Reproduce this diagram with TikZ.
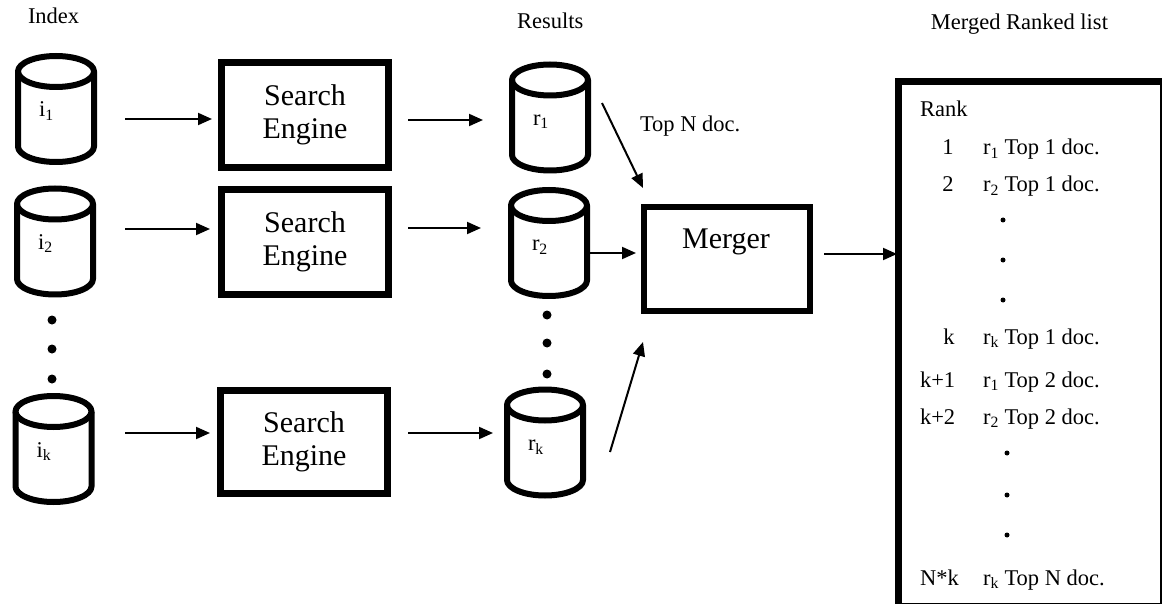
\documentclass[tikz,border=0pt]{standalone}
\usepackage{fontspec}
\setmainfont{Liberation Serif}
\usetikzlibrary{arrows.meta,calc}

% database cylinder: name, x, y (downwards), label
\newcommand\dbcyl[4]{%
  \node[cylnode] (#1) at (#2,-#3) {};
  \draw[cylline] ($(#1.north west)+(0,-15.5)$) -- ($(#1.south west)+(0,15.5)$)
     arc[start angle=180,end angle=360,x radius=38pt,y radius=15.5pt]
     -- ($(#1.north east)+(0,-15.5)$);
  \draw[cylline] ($(#1.north)+(0,-15.5)$) ellipse[x radius=38pt,y radius=15.5pt];
  \node[txt,anchor=base west] (#1-lbl) at ($(#1.center)+(-17,-8)$) {#4};
}

\begin{document}
\begin{tikzpicture}[x=1pt,y=1pt,
  every node/.style={outer sep=0pt},
  txt/.style={font=\fontsize{22.5}{27}\selectfont, inner sep=0pt},
  cylnode/.style={rectangle, minimum width=76pt, minimum height=106pt, inner sep=0pt},
  cylline/.style={line width=6pt, line join=round},
  sebox/.style={draw, line width=7pt, minimum width=167pt, minimum height=105pt,
                inner sep=0pt, align=center, font=\fontsize{30}{33}\selectfont},
  arr/.style={line width=2pt, -{Triangle[length=14pt,width=12pt]}},
  dot/.style={fill=black},
  ]
\useasboundingbox (0,0) rectangle (1162,-604);
\clip (0,0) rectangle (1162,-604);

% column headings
\node[txt,anchor=base west] (hidx) at (28,-24) {Index};
\node[txt,anchor=base west] (hres) at (517,-29) {Results};
\node[txt,anchor=base east] (hlst) at (1108,-30) {Merged Ranked list};

% index collections
\dbcyl{i1}{56}{109}{i\textsubscript{1}}
\dbcyl{i2}{55}{241.5}{i\textsubscript{2}}
\dbcyl{ik}{53.5}{449}{i\textsubscript{k}}
\fill[dot] (52,-320) circle (4.5pt) (52,-349) circle (4.5pt) (52,-379) circle (4.5pt);

% search engines
\node[sebox] (se1) at (305,-115) {Search\\Engine};
\node[sebox] (se2) at (305,-242) {Search\\Engine};
\node[sebox, minimum height=103pt] (se3) at (304,-442) {Search\\Engine};

% result lists
\dbcyl{r1}{550}{117.5}{r\textsubscript{1}}
\dbcyl{r2}{549}{243}{r\textsubscript{2}}
\dbcyl{rk}{545}{442.5}{r\textsubscript{k}}
\fill[dot] (547,-315) circle (4.5pt) (547,-343) circle (4.5pt) (547,-374) circle (4.5pt);

% merger
\node[draw, line width=6pt, minimum width=166pt, minimum height=104pt, inner sep=0pt] (mrg) at (727,-259) {};
\node[anchor=base, inner sep=0pt, font=\fontsize{30}{33}\selectfont] (mrgtxt) at (726,-248) {Merger};
\node[txt,anchor=base west] (topn) at (640,-132) {Top N doc.};

% merged ranked list (runs on past the right and bottom edges)
\node[draw, line width=7pt, minimum width=264.5pt, minimum height=525pt, inner sep=0pt,
      anchor=north west] (lst) at (898.5,-81.5) {};
\node[txt,anchor=base west] (rank) at (920,-117) {Rank};
\node[txt,anchor=base] (n1) at (948,-155) {1};
\node[txt,anchor=base] (n2) at (948,-192) {2};
\node[txt,anchor=base] (nk) at (949,-344) {k};
\node[txt,anchor=base west] (nk1) at (920,-387) {k+1};
\node[txt,anchor=base west] (nk2) at (920,-424) {k+2};
\node[txt,anchor=base west] (nnk) at (920,-585) {N*k};
\node[txt,anchor=base west] (e1) at (983,-155) {r\textsubscript{1} Top 1 doc.};
\node[txt,anchor=base west] (e2) at (983,-192) {r\textsubscript{2} Top 1 doc.};
\node[txt,anchor=base west] (ek) at (983,-344) {r\textsubscript{k} Top 1 doc.};
\node[txt,anchor=base west] (ek1) at (983,-387) {r\textsubscript{1} Top 2 doc.};
\node[txt,anchor=base west] (ek2) at (983,-424) {r\textsubscript{2} Top 2 doc.};
\node[txt,anchor=base west] (enk) at (983,-585) {r\textsubscript{k} Top N doc.};
\fill[dot] (1003,-220) circle (2.5pt) (1003,-260) circle (2.5pt) (1003,-300) circle (2.5pt);
\fill[dot] (1007,-453) circle (2.5pt) (1007,-495) circle (2.5pt) (1007,-535) circle (2.5pt);

% connectors
\draw[arr] ([xshift=31pt,yshift=-10pt]i1.east) -- ([xshift=-9.5pt,yshift=-4pt]se1.west);
\draw[arr] ([xshift=32pt,yshift=12.5pt]i2.east) -- ([xshift=-11.5pt,yshift=13pt]se2.west);
\draw[arr] ([xshift=33.5pt,yshift=16pt]ik.east) -- ([xshift=-10.5pt,yshift=9pt]se3.west);
\draw[arr] ([xshift=19.5pt,yshift=-5pt]se1.east) -- ([xshift=-29pt,yshift=-2.5pt]r1.west);
\draw[arr] ([xshift=19.5pt,yshift=14pt]se2.east) -- ([xshift=-30pt,yshift=15pt]r2.west);
\draw[arr] ([xshift=20.5pt,yshift=9pt]se3.east) -- ([xshift=-14pt,yshift=9.5pt]rk.west);
\draw[arr] ([xshift=14pt,yshift=14.5pt]r1.east) -- ([xshift=-1pt,yshift=19pt]mrg.north west);
\draw[arr] ([xshift=3pt,yshift=-10pt]r2.east) -- ([xshift=-8pt,yshift=6pt]mrg.west);
\draw[arr] ([xshift=27pt,yshift=-9.5pt]rk.east) -- ([xshift=-1pt,yshift=-31pt]mrg.south west);
\draw[arr] ([xshift=14pt,yshift=5pt]mrg.east) -- ([xshift=-1.5pt,yshift=90pt]lst.west);
\end{tikzpicture}
\end{document}
